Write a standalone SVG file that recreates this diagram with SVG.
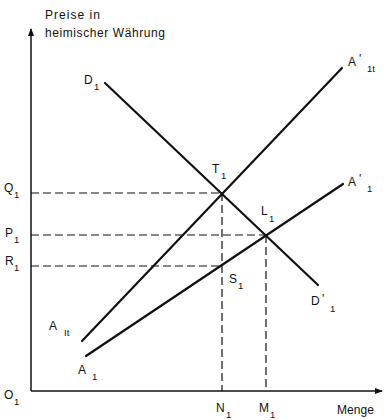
<svg xmlns="http://www.w3.org/2000/svg" width="384" height="420" viewBox="0 0 384 420">
<defs>
<marker id="arr" markerWidth="8" markerHeight="8" refX="7" refY="4" orient="auto" markerUnits="userSpaceOnUse">
<path d="M0,1 L8,4 L0,7 Z" fill="#111"/>
</marker>
<style>
.ax{stroke:#111;stroke-width:1.5;fill:none}
.ln{stroke:#111;stroke-width:2.2;fill:none;stroke-linecap:round}
.ds{stroke:#111;stroke-width:1.2;fill:none;stroke-dasharray:8,4}
text{font-family:"Liberation Sans",Arial,sans-serif;fill:#111;font-size:12px}
.sb{font-size:9.5px}
</style>
</defs>
<g id="axes">
<line class="ax" x1="31" y1="391" x2="31" y2="29" marker-end="url(#arr)"/>
<line class="ax" x1="31" y1="391" x2="382" y2="391" marker-end="url(#arr)"/>
</g>
<g id="connectors">
<line class="ds" x1="31" y1="193" x2="222" y2="193"/>
<line class="ds" x1="31" y1="235" x2="266" y2="235"/>
<line class="ds" x1="31" y1="266" x2="223" y2="266"/>
<line class="ds" x1="222" y1="193" x2="222" y2="391"/>
<line class="ds" x1="266" y1="235" x2="266" y2="391"/>
</g>
<g id="D1">
<line class="ln" x1="105" y1="83" x2="318" y2="285"/>
<text x="84" y="84">D</text><text class="sb" x="94" y="90">1</text>
<text x="311" y="305">D</text><text x="322" y="303">'</text><text class="sb" x="330" y="312">1</text>
</g>
<g id="A1t">
<line class="ln" x1="82" y1="341" x2="342" y2="68"/>
<text x="348" y="66">A</text><text x="359" y="63">'</text><text class="sb" x="367" y="72">1t</text>
<text x="49" y="330">A</text><text class="sb" x="64" y="336">It</text>
</g>
<g id="A1">
<line class="ln" x1="86" y1="356" x2="343" y2="184"/>
<text x="348" y="186">A</text><text x="359" y="183">'</text><text class="sb" x="367" y="192">1</text>
<text x="78" y="374">A</text><text class="sb" x="92" y="380">1</text>
</g>
<g id="T1"><text x="212" y="173">T</text><text class="sb" x="221" y="179">1</text></g>
<g id="L1"><text x="261" y="215">L</text><text class="sb" x="269" y="222">1</text></g>
<g id="S1"><text x="229" y="283">S</text><text class="sb" x="238" y="289">1</text></g>
<g id="Q1"><text x="4" y="192">Q</text><text class="sb" x="14" y="198">1</text></g>
<g id="P1"><text x="5" y="237">P</text><text class="sb" x="14" y="243">1</text></g>
<g id="R1"><text x="5" y="265">R</text><text class="sb" x="14" y="271">1</text></g>
<g id="O1"><text x="4" y="399">O</text><text class="sb" x="14" y="405">1</text></g>
<g id="N1"><text x="216" y="412">N</text><text class="sb" x="226" y="418">1</text></g>
<g id="M1"><text x="259" y="412">M</text><text class="sb" x="270" y="418">1</text></g>
<g id="Menge"><text x="337" y="414" textLength="37">Menge</text></g>
<g id="ylabel">
<text x="45" y="19" textLength="55">Preise in</text>
<text x="45" y="37" textLength="120">heimischer Währung</text>
</g>
</svg>
